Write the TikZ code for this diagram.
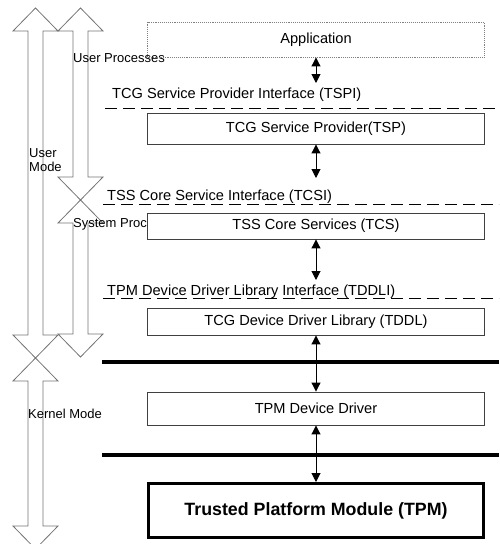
\documentclass[tikz,border=0pt]{standalone}
\usepackage{fontspec}
\setmainfont{Liberation Sans}
\usetikzlibrary{arrows.meta}
\begin{document}
\begin{tikzpicture}[x=1pt,y=-1pt,
  layerbox/.style={draw=black!75,line width=0.9pt,minimum width=337pt,inner sep=0pt,font=\fontsize{14.6}{17}\selectfont},
  iflabel/.style={anchor=base west,inner sep=0pt,font=\fontsize{14.6}{17}\selectfont},
  sidelabel/.style={anchor=base west,inner sep=0pt,font=\fontsize{13}{15}\selectfont},
  ifline/.style={line width=1pt,dash pattern=on 12pt off 6pt},
  kline/.style={line width=3.5pt},
  link/.style={line width=1pt,{Triangle[width=9pt,length=9pt]}-{Triangle[width=9pt,length=9pt]}},
  modearrow/.style={draw=black!55,line width=0.8pt}
]
\useasboundingbox (0,0) rectangle (499,544);
\clip (0,0) rectangle (499,544);

% side double arrows (outlines)
\newcommand{\dblarrow}[3]{%
  \draw[modearrow] (#1,#2) -- (#1+22.5,#2+23) -- (#1+7.5,#2+23) -- (#1+7.5,#3-23)
    -- (#1+22.5,#3-23) -- (#1,#3) -- (#1-22.5,#3-23) -- (#1-7.5,#3-23)
    -- (#1-7.5,#2+23) -- (#1-22.5,#2+23) -- cycle;}
\dblarrow{35.5}{8}{358}
\dblarrow{35.5}{358}{549}
\dblarrow{80.5}{8}{200}
\dblarrow{80.5}{200}{357}

% side labels
\node[sidelabel] (up) at (73,62) {User Processes};
\node[sidelabel] (um1) at (29,157) {User};
\node[sidelabel] (um2) at (29,171) {Mode};
\node[sidelabel] (sp) at (73,227) {System Proc};
\node[sidelabel] (km) at (28,418) {Kernel Mode};

% boxes
\node[layerbox,draw=black!50,densely dotted,minimum height=35pt] (app) at (316,39.5) {Application};
\node[layerbox,minimum height=31pt] (tsp) at (316,128.5) {TCG Service Provider(TSP)};
\node[layerbox,fill=white,minimum height=26pt] (tcs) at (316,226) {TSS Core Services (TCS)};
\node[layerbox,minimum height=27pt] (tddl) at (316,321.5) {TCG Device Driver Library (TDDL)};
\node[layerbox,minimum height=33pt] (dd) at (316,408.5) {TPM Device Driver};
\node[draw,line width=3pt,minimum width=335pt,minimum height=54pt,inner sep=0pt,
      font=\fontsize{17.8}{20}\selectfont\bfseries] (tpm) at (316,510.5) {Trusted Platform Module (TPM)};

% interface labels
\node[iflabel] (tspi) at (112,98) {TCG Service Provider Interface (TSPI)};
\node[iflabel] (tcsi) at (107,200) {TSS Core Service Interface (TCSI)};
\node[iflabel] (tddli) at (107,295) {TPM Device Driver Library Interface (TDDLI)};

% interface lines
\coordinate (l1a) at (105,108); \coordinate (l1b) at (499,108);
\coordinate (l2a) at (103,204); \coordinate (l2b) at (499,204);
\coordinate (l3a) at (103,298); \coordinate (l3b) at (499,298);
\draw[ifline] (l1a) -- (l1b);
\draw[ifline] (l2a) -- (l2b);
\draw[ifline] (l3a) -- (l3b);

% kernel / hardware lines
\coordinate (k1a) at (102,362); \coordinate (k1b) at (499,362);
\coordinate (k2a) at (102,455); \coordinate (k2b) at (499,455);
\draw[kline] (k1a) -- (k1b);
\draw[kline] (k2a) -- (k2b);

% connectors
\coordinate (e1) at (316,83);
\coordinate (e2) at (316,178);
\coordinate (e3) at (316,280);
\draw[link] (app.south) -- (e1);
\draw[link] (tsp.south) -- (e2);
\draw[link] (tcs.south) -- (e3);
\draw[link] (tddl.south) -- (dd.north);
\draw[link] (dd.south) -- (tpm.north);
\end{tikzpicture}
\end{document}
